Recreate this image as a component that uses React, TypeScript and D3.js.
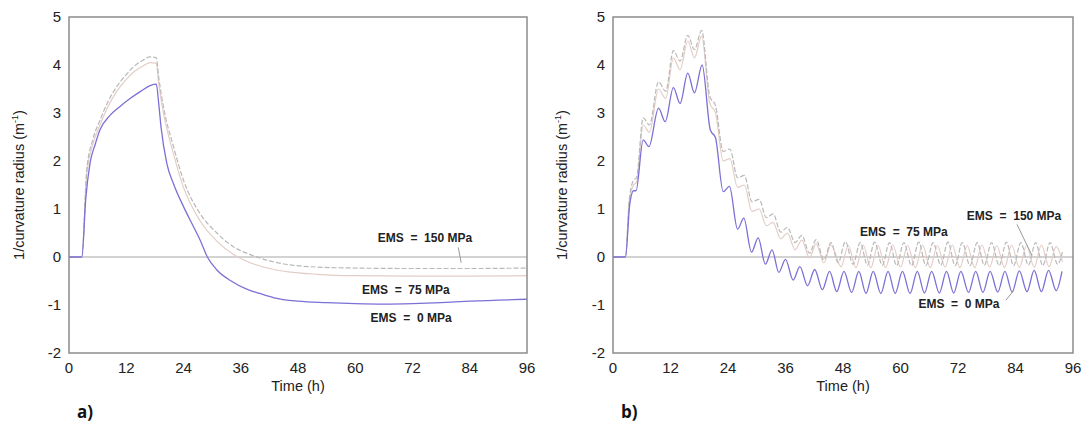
import React from "react";
import * as d3 from "d3";

// ---- data ----
const xTicks = [0, 12, 24, 36, 48, 60, 72, 84, 96];
const yTicks = [-2, -1, 0, 1, 2, 3, 4, 5];

// Panel a) : [time (h), 1/curvature radius (1/m)]
const a_ems0: [number, number][] = [
  [0, 0], [2.7, 0], [3.5, 1.2], [4.4, 1.95], [5.5, 2.35], [6.5, 2.65], [8.6, 2.95], [10.5, 3.12],
  [12.8, 3.3], [15, 3.45], [17, 3.57], [18.3, 3.6], [18.8, 3.2], [19.3, 2.7], [20.5, 1.95], [22, 1.5],
  [24, 1.05], [26, 0.65], [27.5, 0.35], [29, 0], [31, -0.27], [34, -0.5], [37, -0.66], [40, -0.76],
  [43, -0.85], [48, -0.92], [54, -0.95], [60, -0.97], [66, -0.98], [72, -0.97], [78, -0.95],
  [84, -0.92], [90, -0.9], [96, -0.88],
];
const a_ems75: [number, number][] = [
  [0, 0], [2.7, 0], [3.7, 1.7], [5, 2.35], [6.5, 2.75], [8, 3.1], [10, 3.45], [12, 3.7], [13.5, 3.85],
  [15.5, 3.98], [17, 4.05], [18.3, 4.03], [18.8, 3.62], [19.8, 3.0], [21.9, 2.15], [24, 1.45],
  [27.5, 0.75], [31, 0.33], [34.5, 0.05], [38, -0.12], [42, -0.24], [46, -0.31], [52, -0.36],
  [60, -0.39], [72, -0.4], [84, -0.4], [96, -0.39],
];
const a_ems150: [number, number][] = [
  [0, 0], [2.7, 0], [3.7, 1.8], [5, 2.45], [6.5, 2.85], [8, 3.2], [10, 3.55], [12, 3.8], [13.5, 3.96],
  [15.5, 4.1], [17, 4.17], [18.3, 4.15], [18.8, 3.75], [19.8, 3.13], [21.9, 2.3], [24, 1.6],
  [27.5, 0.9], [31, 0.5], [34.5, 0.21], [38, 0.05], [42, -0.08], [46, -0.16], [52, -0.21],
  [60, -0.23], [72, -0.24], [84, -0.24], [96, -0.23],
];

// Panel b)
const b_ems0: [number, number][] = [
  [0, 0], [2.6, 0], [3.5, 1.1], [4.3, 1.38], [4.8, 1.38], [6.3, 2.44], [7.5, 2.3], [9.5, 3.1],
  [10.9, 2.82], [12.6, 3.53], [14.0, 3.2], [15.6, 3.83], [17.0, 3.42], [18.6, 4.0], [20.3, 2.65],
  [21.4, 2.48], [23.0, 1.36], [24.3, 1.47], [26.0, 0.58], [27.3, 0.81], [28.9, 0.1], [30.3, 0.4],
  [31.8, -0.15], [33.2, 0.15], [34.6, -0.32], [36.0, -0.05], [37.6, -0.48], [39.0, -0.2],
  [40.6, -0.6], [42.1, -0.26], [43.7, -0.68], [45.2, -0.3], [46.7, -0.72], [48.2, -0.3],
  [49.8, -0.74], [51.3, -0.3], [52.8, -0.76], [54.3, -0.3], [55.9, -0.76], [57.4, -0.3],
  [58.9, -0.76], [60.4, -0.3], [62.0, -0.76], [63.5, -0.3], [65.0, -0.75], [66.5, -0.3],
  [68.1, -0.75], [69.6, -0.3], [71.1, -0.75], [72.6, -0.3], [74.2, -0.74], [75.7, -0.3],
  [77.2, -0.74], [78.7, -0.3], [80.3, -0.73], [81.8, -0.3], [83.3, -0.73], [84.8, -0.29],
  [86.4, -0.72], [87.9, -0.28], [89.4, -0.72], [90.9, -0.28], [92.5, -0.7], [93.7, -0.3],
];
const b_ems75: [number, number][] = [
  [0, 0], [2.6, 0], [3.4, 1.15], [4.3, 1.5], [4.9, 1.55], [6.3, 2.75], [7.6, 2.6], [9.5, 3.5],
  [11.0, 3.3], [12.6, 4.15], [14.0, 3.9], [15.6, 4.5], [17.0, 4.15], [18.5, 4.6], [20.2, 3.2],
  [21.4, 3.0], [23.0, 2.0], [24.4, 2.05], [26.0, 1.45], [27.4, 1.5], [29.0, 0.95], [30.5, 1.0],
  [32.0, 0.65], [33.4, 0.72], [35.0, 0.38], [36.4, 0.5], [38.0, 0.15], [39.4, 0.35], [41.0, -0.02],
  [42.4, 0.28], [44.0, -0.12], [45.5, 0.25], [47.6, -0.2], [49.1, 0.24], [50.7, -0.22],
  [52.2, 0.25], [53.8, -0.22], [55.3, 0.24], [56.9, -0.22], [58.4, 0.25], [60.0, -0.21],
  [61.5, 0.24], [63.1, -0.22], [64.6, 0.25], [66.2, -0.22], [67.7, 0.24], [69.3, -0.21],
  [70.8, 0.25], [72.4, -0.22], [73.9, 0.24], [75.5, -0.22], [77.0, 0.25], [78.6, -0.21],
  [80.1, 0.24], [81.7, -0.22], [83.2, 0.25], [84.8, -0.22], [86.3, 0.24], [87.9, -0.21],
  [89.4, 0.25], [91.0, -0.2], [92.5, 0.22], [93.8, -0.1],
];
const b_ems150: [number, number][] = [
  [0, 0], [2.6, 0], [3.4, 1.2], [4.3, 1.6], [4.9, 1.65], [6.3, 2.9], [7.6, 2.75], [9.5, 3.65],
  [11.0, 3.45], [12.6, 4.3], [14.0, 4.08], [15.6, 4.62], [17.0, 4.32], [18.5, 4.72], [20.2, 3.35],
  [21.4, 3.15], [23.0, 2.2], [24.4, 2.25], [26.0, 1.65], [27.4, 1.7], [29.0, 1.15], [30.5, 1.2],
  [32.0, 0.82], [33.4, 0.9], [35.0, 0.52], [36.4, 0.62], [38.0, 0.3], [39.4, 0.45], [41.0, 0.08],
  [42.4, 0.36], [44.0, -0.06], [45.5, 0.3], [47.0, -0.12], [48.5, 0.32], [50.1, -0.15],
  [51.6, 0.3], [53.1, -0.17], [54.6, 0.31], [56.2, -0.17], [57.7, 0.3], [59.2, -0.18],
  [60.7, 0.3], [62.3, -0.18], [63.8, 0.31], [65.3, -0.18], [66.8, 0.3], [68.4, -0.17],
  [69.9, 0.31], [71.4, -0.18], [72.9, 0.3], [74.5, -0.18], [76.0, 0.3], [77.5, -0.17],
  [79.0, 0.3], [80.6, -0.18], [82.1, 0.31], [83.6, -0.18], [85.1, 0.3], [86.7, -0.17],
  [88.2, 0.3], [89.7, -0.18], [91.2, 0.3], [92.8, -0.15], [93.8, 0.1],
];

// annotation labels: [text, time (centre), value (baseline)]
const a_labels: [string, number, number][] = [
  ["EMS  =  150 MPa", 74.6, 0.31],
  ["EMS  =  75 MPa", 70.6, -0.77],
  ["EMS  =  0 MPa", 71.7, -1.35],
];
const b_labels: [string, number, number][] = [
  ["EMS  =  150 MPa", 83.7, 0.77],
  ["EMS  =  75 MPa", 60.7, 0.44],
  ["EMS  =  0 MPa", 72.2, -1.06],
];
// pointer segments [t1, v1, t2, v2]
const a_pointers: [number, number, number, number][] = [[81.6, 0.2, 82.2, -0.12]];
const b_pointers: [number, number, number, number][] = [
  [84.3, 0.68, 87.4, 0.04],
  [82.0, -0.9, 83.6, -0.7],
];

const C0 = "#7b70d6";
const C75 = "#e3cdc6";
const C150 = "#b9b9b9";
const FONT = "'Liberation Sans', Arial, sans-serif";

type PanelProps = {
  x0: number;
  x1: number;
  s0: [number, number][];
  s75: [number, number][];
  s150: [number, number][];
  labels: [string, number, number][];
  pointers: [number, number, number, number][];
  tag: string;
  tagX: number;
  ylabX: number;
};

function Panel({ x0, x1, s0, s75, s150, labels, pointers, tag, tagX, ylabX }: PanelProps) {
  const x = d3.scaleLinear().domain([0, 96]).range([x0, x1]);
  const y = d3.scaleLinear().domain([-2, 5]).range([353, 17]);
  const line = d3
    .line<[number, number]>()
    .x((d) => x(d[0]))
    .y((d) => y(d[1]))
    .curve(d3.curveMonotoneX);
  return (
    <g>
      <line x1={x(0)} x2={x(96)} y1={y(0)} y2={y(0)} stroke="#c4c4c4" strokeWidth={1.5} />
      <path d={line(s75) || ""} fill="none" stroke={C75} strokeWidth={1.2} />
      <path d={line(s150) || ""} fill="none" stroke={C150} strokeWidth={1.2} strokeDasharray="5,2" />
      <path d={line(s0) || ""} fill="none" stroke={C0} strokeWidth={1.3} />
      <rect x={x(0)} y={y(5)} width={x(96) - x(0)} height={y(-2) - y(5)} fill="none" stroke="#8c8c8c" strokeWidth={1.5} />
      {yTicks.map((t) => (
        <text key={"y" + t} x={x(0) - 8} y={y(t) + 5} textAnchor="end" fontSize={15} fontFamily={FONT} fill="#222">
          {t}
        </text>
      ))}
      {xTicks.map((t) => (
        <text key={"x" + t} x={x(t)} y={373} textAnchor="middle" fontSize={15} fontFamily={FONT} fill="#222">
          {t}
        </text>
      ))}
      <text x={(x(0) + x(96)) / 2} y={391} textAnchor="middle" fontSize={14.5} fontFamily={FONT} fill="#222">
        Time (h)
      </text>
      <text
        transform={`translate(${ylabX},${y(1.5)}) rotate(-90)`}
        textAnchor="middle"
        fontSize={14.5}
        fontFamily={FONT}
        fill="#222"
      >
        1/curvature radius (m<tspan dy={-6} fontSize={9}>-1</tspan>
        <tspan dy={6}>)</tspan>
      </text>
      {labels.map(([s, t, v]) => (
        <text
          key={s}
          x={x(t)}
          y={y(v)}
          textAnchor="middle"
          fontSize={12}
          fontWeight={600}
          fontFamily={FONT}
          fill="#222"
          style={{ whiteSpace: "pre" }}
        >
          {s}
        </text>
      ))}
      {pointers.map(([ta, va, tb, vb], i) => (
        <line key={i} x1={x(ta)} y1={y(va)} x2={x(tb)} y2={y(vb)} stroke="#999" strokeWidth={1} />
      ))}
      <text x={tagX} y={418} fontSize={17} fontWeight={700} fontFamily="'Open Sans', sans-serif" fill="#111">
        {tag}
      </text>
    </g>
  );
}

export default function App() {
  return (
    <svg
      width={1091}
      height={424}
      style={{ position: "absolute", left: 0, top: 0, background: "#fff" }}
    >
      <rect width={1091} height={424} fill="#fff" />
      <Panel x0={69} x1={527} s0={a_ems0} s75={a_ems75} s150={a_ems150} labels={a_labels} pointers={a_pointers} tag="a)" tagX={77} ylabX={24} />
      <Panel x0={613} x1={1073} s0={b_ems0} s75={b_ems75} s150={b_ems150} labels={b_labels} pointers={b_pointers} tag="b)" tagX={621} ylabX={567} />
    </svg>
  );
}
